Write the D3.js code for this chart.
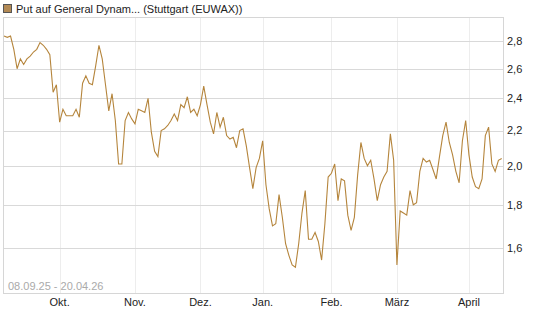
<!DOCTYPE html>
<html>
<head>
<meta charset="utf-8">
<script src="https://cdn.jsdelivr.net/npm/d3@7"></script>
<style>
  body { margin: 0; background: #fff; }
  svg { display: block; font-family: "Liberation Sans", Arial, sans-serif; }
</style>
</head>
<body>
<svg width="545" height="327"></svg>
<script>
// closing prices, one per trading day 08.09.25 .. 17.04.26
const prices = [
  2.84, 2.83, 2.84, 2.74, 2.60, 2.67, 2.63, 2.67, 2.69, 2.72,
  2.74, 2.79, 2.77, 2.74, 2.70, 2.44, 2.49, 2.25, 2.33, 2.29,
  2.29, 2.29, 2.33, 2.28, 2.50, 2.55, 2.50, 2.49, 2.62, 2.77,
  2.67, 2.49, 2.32, 2.43, 2.26, 2.01, 2.01, 2.26, 2.31, 2.27,
  2.24, 2.33, 2.32, 2.31, 2.40, 2.19, 2.08, 2.05, 2.20, 2.21,
  2.23, 2.26, 2.30, 2.26, 2.36, 2.34, 2.41, 2.31, 2.33, 2.29,
  2.36, 2.48, 2.36, 2.25, 2.18, 2.31, 2.22, 2.28, 2.17, 2.15,
  2.16, 2.10, 2.20, 2.21, 2.11, 1.99, 1.88, 1.99, 2.04, 2.14,
  1.90, 1.78, 1.70, 1.71, 1.85, 1.74, 1.62, 1.57, 1.53, 1.52,
  1.62, 1.76, 1.87, 1.64, 1.64, 1.67, 1.63, 1.55, 1.71, 1.94,
  1.96, 2.01, 1.82, 1.93, 1.92, 1.75, 1.68, 1.74, 1.95, 2.13,
  2.04, 2.00, 2.03, 1.93, 1.82, 1.90, 1.94, 1.97, 2.18, 2.03,
  1.53, 1.77, 1.76, 1.75, 1.87, 1.80, 1.81, 1.97, 2.04, 2.02,
  2.03, 1.98, 1.93, 2.05, 2.17, 2.25, 2.13, 2.06, 1.97, 1.91,
  2.14, 2.26, 2.06, 1.94, 1.89, 1.88, 1.93, 2.17, 2.22, 2.01,
  1.97, 2.03, 2.04
];

// first trading day of each month (index into prices)
const monthLabels = ["Okt.", "Nov.", "Dez.", "Jan.", "Feb.", "März", "April"];
const monthStart = [17, 40, 60, 79, 100, 120, 142];

const yTicks = [1.6, 1.8, 2.0, 2.2, 2.4, 2.6, 2.8];

const title = "Put auf General Dynam... (Stuttgart (EUWAX))";
const rangeLabel = "08.09.25 - 20.04.26";

const svg = d3.select("svg");
const box = {left: 3, right: 503, top: 17, bottom: 293};

const x = d3.scaleLinear()
    .domain([0, prices.length - 1])
    .range([4, 501.7]);

const y = d3.scaleLog()
    .domain([1.418, 2.99])
    .range([box.bottom, box.top]);

const fmt = d => d3.format(".1f")(d).replace(".", ",");

// grid
svg.append("g")
    .selectAll("line")
    .data(monthStart)
    .enter().append("line")
    .attr("x1", d => Math.round(x(d)) + 0.5)
    .attr("x2", d => Math.round(x(d)) + 0.5)
    .attr("y1", box.top)
    .attr("y2", box.bottom)
    .attr("stroke", "#ededed");

svg.append("g")
    .selectAll("line")
    .data(yTicks)
    .enter().append("line")
    .attr("x1", box.left)
    .attr("x2", box.right)
    .attr("y1", d => Math.round(y(d)) + 0.5)
    .attr("y2", d => Math.round(y(d)) + 0.5)
    .attr("stroke", "#d9d9d9");

// frame
svg.append("rect")
    .attr("x", box.left + 0.5)
    .attr("y", box.top + 0.5)
    .attr("width", box.right - box.left)
    .attr("height", box.bottom - box.top)
    .attr("fill", "none")
    .attr("stroke", "#d6d6d6");

// y labels on the right
svg.append("g")
    .selectAll("text")
    .data(yTicks)
    .enter().append("text")
    .attr("x", 507)
    .attr("y", d => y(d))
    .attr("dy", "0.35em")
    .attr("font-size", 11)
    .attr("fill", "#222")
    .text(fmt);

// month labels
svg.append("g")
    .selectAll("text")
    .data(monthStart)
    .enter().append("text")
    .attr("x", d => x(d))
    .attr("y", 306)
    .attr("text-anchor", "middle")
    .attr("font-size", 11)
    .attr("fill", "#222")
    .text((d, i) => monthLabels[i]);

// date range inside the plot
svg.append("text")
    .attr("x", 8)
    .attr("y", 290)
    .attr("font-size", 11)
    .attr("fill", "#aaa")
    .text(rangeLabel);

// line
const line = d3.line()
    .x((d, i) => x(i))
    .y(d => y(d));

svg.append("path")
    .datum(prices)
    .attr("d", line)
    .attr("fill", "none")
    .attr("stroke", "#b5853c")
    .attr("stroke-width", 1.1);

// legend / title
svg.append("rect")
    .attr("x", 3.5)
    .attr("y", 4.5)
    .attr("width", 8)
    .attr("height", 8)
    .attr("fill", "#b38a55")
    .attr("stroke", "#555");

svg.append("text")
    .attr("x", 16)
    .attr("y", 13)
    .attr("font-size", 11)
    .attr("fill", "#222")
    .text(title);
</script>
</body>
</html>
